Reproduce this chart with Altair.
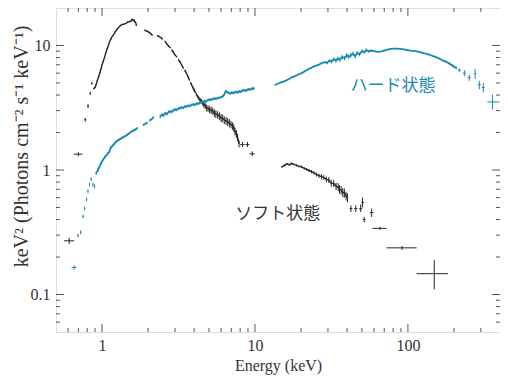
import altair as alt
import pandas as pd

# ---------------- data ----------------
# soft state (black): dense part, value, y half-error, segment id
soft_E = [0.88, 0.90, 0.915, 0.93, 0.95, 0.97, 0.985, 1.00, 1.02, 1.04, 1.061, 1.08, 1.10, 1.12,
          1.143, 1.165, 1.19, 1.21, 1.231, 1.255, 1.28, 1.30, 1.326, 1.35, 1.38, 1.40, 1.43, 1.46,
          1.48, 1.51, 1.54, 1.56, 1.58, 1.60, 1.62, 1.64, 1.66, 1.68,
          1.90, 1.94, 1.98, 2.02, 2.06, 2.10, 2.13,
          2.30, 2.36, 2.42, 2.48,
          2.58, 2.65, 2.72, 2.79, 2.86, 2.93, 3.00, 3.08, 3.16, 3.23, 3.31, 3.40, 3.48, 3.57,
          3.65, 3.72, 3.80, 3.85, 3.93, 4.00, 4.07, 4.14, 4.22, 4.30, 4.38, 4.46, 4.55, 4.63,
          4.72, 4.81, 4.93, 5.05, 5.17, 5.30, 5.42, 5.55, 5.70, 5.85, 6.00, 6.15, 6.30, 6.47,
          6.63, 6.80, 6.97, 7.14, 7.27, 7.40, 7.55, 7.69, 7.87,
          15.0, 15.6, 16.2, 16.8, 17.4, 18.0, 18.7, 19.4, 20.2, 21.0, 21.8, 22.6, 23.4, 24.3,
          25.2, 26.2, 27.2, 28.2, 29.3, 30.4, 31.5, 32.7, 33.9, 35.0, 35.7, 36.6, 37.5, 38.4,
          39.4, 40.3]
soft_V = [4.5, 4.6, 4.85, 5.2, 5.6, 6.1, 6.5, 7.0, 7.5, 8.1, 8.8, 9.4, 10.0, 10.7,
          11.3, 11.8, 12.2, 12.7, 13.1, 13.5, 13.9, 14.2, 14.5, 14.7, 14.8, 14.9, 15.0, 15.3,
          15.5, 15.5, 15.7, 16.0, 16.2, 15.8, 16.0, 15.5, 15.2, 14.4,
          13.3, 13.1, 13.0, 12.8, 12.6, 12.3, 12.1,
          12.0, 11.8, 11.6, 11.3,
          10.8, 10.3, 9.9, 9.6, 9.2, 8.8, 8.4, 8.1, 7.7, 7.4, 7.0, 6.6, 6.3, 5.96,
          5.6, 5.3, 5.0, 4.83, 4.6, 4.4, 4.2, 4.03, 3.9, 3.75, 3.65, 3.56, 3.45, 3.35,
          3.3, 3.16, 3.12, 3.05, 3.02, 2.97, 2.86, 2.82, 2.78, 2.71, 2.62, 2.60, 2.52, 2.48,
          2.44, 2.38, 2.32, 2.26, 2.18, 2.05, 1.95, 1.83, 1.62,
          1.06, 1.09, 1.12, 1.10, 1.13, 1.11, 1.09, 1.07, 1.06, 1.03, 1.01, 0.99, 0.97, 0.95,
          0.92, 0.90, 0.885, 0.87, 0.84, 0.83, 0.785, 0.78, 0.74, 0.73, 0.70, 0.69, 0.66, 0.655,
          0.62, 0.60]
soft_dV = [0.05, 0.05, 0.05, 0.05, 0.06, 0.06, 0.06, 0.07, 0.07, 0.08, 0.08, 0.09, 0.1, 0.1,
           0.1, 0.1, 0.1, 0.1, 0.1, 0.1, 0.1, 0.1, 0.1, 0.1, 0.1, 0.1, 0.1, 0.1,
           0.1, 0.1, 0.1, 0.1, 0.1, 0.1, 0.1, 0.1, 0.1, 0.1,
           0.15, 0.15, 0.15, 0.15, 0.15, 0.15, 0.15,
           0.15, 0.15, 0.15, 0.15,
           0.12, 0.12, 0.12, 0.12, 0.11, 0.11, 0.1, 0.1, 0.1, 0.1, 0.1, 0.1, 0.1, 0.1,
           0.1, 0.1, 0.1, 0.1, 0.1, 0.1, 0.1, 0.12, 0.12, 0.14, 0.14, 0.15, 0.16, 0.18,
           0.2, 0.2, 0.2, 0.2, 0.2, 0.2, 0.2, 0.2, 0.2, 0.2, 0.2, 0.18, 0.18, 0.18,
           0.18, 0.18, 0.16, 0.16, 0.15, 0.15, 0.14, 0.12, 0.1,
           0.02, 0.02, 0.02, 0.02, 0.02, 0.02, 0.02, 0.02, 0.025, 0.025, 0.025, 0.03, 0.03, 0.03,
           0.035, 0.035, 0.04, 0.04, 0.045, 0.045, 0.05, 0.05, 0.05, 0.055, 0.055, 0.055, 0.055, 0.055,
           0.05, 0.05]
soft_seg = ([1] * 38 + [2] * 7 + [3] * 4 + [4] * 4 + [5] * 4 + [6] * 4 + [7] * 4 + [8] * 5
            + [9] * 30 + [10] * 30)

# soft state: isolated crosses (energy, value, x-range, y-range)
softc_E = [0.61, 0.70, 0.777, 0.81, 0.837, 0.858, 8.28, 8.93, 9.60,
           42.4, 45.6, 49.1, 50.5, 51.8, 57.9, 65.7, 91.5, 148.7]
softc_V = [0.27, 1.34, 2.53, 3.26, 4.12, 4.97, 1.60, 1.60, 1.35,
           0.49, 0.49, 0.49, 0.55, 0.40, 0.455, 0.34, 0.237, 0.147]
softc_Elo = [0.565, 0.655, 0.765, 0.80, 0.83, 0.85, 8.0, 8.65, 9.25,
             41.6, 44.6, 48.0, 49.5, 50.8, 56.3, 58.6, 72.5, 114.0]
softc_Ehi = [0.657, 0.745, 0.79, 0.82, 0.845, 0.866, 8.55, 9.2, 9.95,
             43.3, 46.6, 50.2, 51.6, 52.8, 59.6, 72.5, 114.0, 183.0]
softc_Vlo = [0.255, 1.29, 2.45, 3.15, 4.0, 4.85, 1.53, 1.53, 1.29,
             0.46, 0.46, 0.46, 0.50, 0.38, 0.42, 0.33, 0.228, 0.110]
softc_Vhi = [0.285, 1.39, 2.61, 3.37, 4.25, 5.1, 1.68, 1.68, 1.41,
             0.52, 0.52, 0.53, 0.60, 0.42, 0.49, 0.35, 0.246, 0.189]

# hard state (blue): dense part
hard_E = [0.915, 0.94, 0.961, 0.985, 1.01, 1.05, 1.088, 1.12, 1.143, 1.17, 1.20, 1.23, 1.26,
          1.30, 1.326, 1.36, 1.39, 1.43, 1.47, 1.51, 1.54, 1.58, 1.62, 1.66, 1.70,
          1.86, 1.92, 1.97,
          2.05, 2.11, 2.17,
          2.40, 2.46, 2.52, 2.59, 2.66, 2.72, 2.79, 2.86, 2.93, 3.00, 3.08, 3.16, 3.23, 3.31,
          3.40, 3.48, 3.57, 3.65, 3.75, 3.85, 3.95, 4.05, 4.15, 4.25, 4.35, 4.46, 4.57, 4.68,
          4.80, 4.92, 5.05, 5.18, 5.31, 5.45, 5.58, 5.72, 5.85, 6.00, 6.15, 6.30, 6.40, 6.47,
          6.60, 6.75, 6.90, 7.05, 7.20, 7.35, 7.50, 7.65, 7.80, 7.95, 8.10, 8.30, 8.50, 8.70,
          8.90, 9.10, 9.30, 9.50, 9.70, 9.87,
          13.5, 14.2, 15.0, 15.8, 16.6, 17.4, 18.3, 19.2, 20.2, 21.2, 22.3, 23.4, 24.6, 25.8,
          27.2, 28.6, 29.6, 30.6, 31.7, 32.8, 33.8, 34.8, 36.0, 37.2, 38.5, 39.8, 41.0, 42.4,
          43.8, 45.2, 46.6, 48.2, 50.0, 51.8, 53.5, 55.3, 57.1, 60.0, 63.0, 66.3, 70.0, 73.5,
          76.9, 80.5, 84.5, 89.2, 94.0, 98.5, 103.5, 109.0, 114.0, 120.0, 126.0, 132.0, 139.0,
          146.0, 153.0, 161.0, 170.0, 178.0, 187.0, 197.0, 207.0]
hard_V = [0.94, 1.00, 1.06, 1.13, 1.20, 1.28, 1.35, 1.42, 1.52, 1.56, 1.62, 1.68, 1.72,
          1.76, 1.78, 1.82, 1.85, 1.88, 1.93, 1.97, 2.02, 2.05, 2.09, 2.12, 2.17,
          2.30, 2.35, 2.40,
          2.50, 2.56, 2.65,
          2.68, 2.78, 2.74, 2.85, 2.82, 2.92, 2.95, 2.93, 3.02, 3.06, 3.04, 3.12, 3.14, 3.18,
          3.15, 3.24, 3.22, 3.28, 3.27, 3.33, 3.36, 3.34, 3.42, 3.40, 3.46, 3.50, 3.52, 3.58,
          3.56, 3.64, 3.68, 3.66, 3.72, 3.75, 3.73, 3.80, 3.79, 3.86, 3.90, 4.03, 4.25, 4.30,
          4.20, 4.16, 4.12, 4.18, 4.15, 4.20, 4.24, 4.19, 4.26, 4.28, 4.25, 4.34, 4.38, 4.33,
          4.40, 4.45, 4.41, 4.52, 4.48, 4.55,
          4.83, 4.95, 5.08, 5.20, 5.35, 5.55, 5.68, 5.85, 6.00, 6.20, 6.45, 6.62, 6.85, 6.95,
          7.20, 7.35, 7.25, 7.55, 7.45, 7.75, 7.55, 7.85, 7.70, 8.10, 7.90, 8.35, 8.10, 8.35,
          8.60, 8.20, 8.70, 8.50, 9.00, 8.85, 9.20, 8.95, 9.11, 9.00, 8.90, 8.94, 9.10, 9.25,
          9.38, 9.45, 9.42, 9.38, 9.30, 9.20, 9.11, 9.05, 8.95, 8.84, 8.70, 8.55, 8.42,
          8.20, 8.05, 7.83, 7.55, 7.40, 7.15, 6.85, 6.60]
hard_dV = [0.03, 0.03, 0.03, 0.03, 0.03, 0.03, 0.04, 0.04, 0.04, 0.04, 0.04, 0.04, 0.04,
           0.04, 0.04, 0.04, 0.04, 0.04, 0.04, 0.04, 0.04, 0.04, 0.04, 0.04, 0.04,
           0.05, 0.05, 0.05,
           0.05, 0.05, 0.05,
           0.08, 0.08, 0.08, 0.08, 0.08, 0.08, 0.08, 0.08, 0.08, 0.08, 0.08, 0.08, 0.08, 0.08,
           0.08, 0.08, 0.08, 0.08, 0.08, 0.08, 0.08, 0.08, 0.08, 0.08, 0.08, 0.08, 0.08, 0.08,
           0.09, 0.09, 0.09, 0.09, 0.09, 0.09, 0.09, 0.09, 0.09, 0.09, 0.09, 0.09, 0.09, 0.09,
           0.1, 0.1, 0.1, 0.1, 0.1, 0.1, 0.1, 0.1, 0.1, 0.1, 0.1, 0.1, 0.1, 0.1,
           0.1, 0.1, 0.1, 0.1, 0.1, 0.1,
           0.05, 0.05, 0.05, 0.06, 0.06, 0.06, 0.07, 0.07, 0.08, 0.08, 0.1, 0.1, 0.12, 0.12,
           0.15, 0.15, 0.2, 0.2, 0.25, 0.25, 0.3, 0.3, 0.3, 0.3, 0.3, 0.35, 0.35, 0.35,
           0.35, 0.35, 0.3, 0.3, 0.3, 0.25, 0.25, 0.2, 0.2, 0.1, 0.1, 0.08, 0.08, 0.08,
           0.08, 0.08, 0.08, 0.08, 0.08, 0.08, 0.08, 0.08, 0.08, 0.08, 0.1, 0.1, 0.1,
           0.12, 0.12, 0.15, 0.15, 0.18, 0.2, 0.2, 0.2]
hard_seg = [1] * 25 + [2] * 3 + [3] * 3 + [4] * 62 + [5] * 63

# hard state: isolated crosses
hardc_E = [0.657, 0.697, 0.725, 0.751, 0.769, 0.792, 0.809, 0.828, 0.849, 0.871, 0.892,
           217.0, 234.0, 252.0, 275.0, 293.0, 311.0, 357.0]
hardc_V = [0.165, 0.298, 0.316, 0.424, 0.49, 0.58, 0.674, 0.762, 0.845, 0.762, 0.74,
           6.34, 6.0, 5.51, 5.96, 4.83, 4.6, 3.52]
hardc_Elo = [0.632, 0.69, 0.718, 0.744, 0.762, 0.785, 0.802, 0.821, 0.842, 0.864, 0.885,
             212.0, 228.0, 246.0, 270.0, 286.0, 304.0, 331.0]
hardc_Ehi = [0.683, 0.704, 0.732, 0.758, 0.776, 0.799, 0.816, 0.835, 0.856, 0.878, 0.899,
             222.0, 240.0, 258.0, 280.0, 300.0, 318.0, 397.0]
hardc_Vlo = [0.158, 0.288, 0.305, 0.41, 0.475, 0.56, 0.65, 0.735, 0.815, 0.735, 0.715,
             6.15, 5.66, 5.2, 5.4, 4.45, 4.2, 3.07]
hardc_Vhi = [0.172, 0.308, 0.327, 0.438, 0.505, 0.60, 0.70, 0.79, 0.875, 0.79, 0.765,
             6.53, 6.34, 5.82, 6.5, 5.2, 5.0, 4.03]

# axis tick values
x_major = [1, 10, 100]
x_minor = [0.6, 0.7, 0.8, 0.9, 2, 3, 4, 5, 6, 7, 8, 9, 20, 30, 40, 50, 60, 70, 80, 90, 200, 300]
y_major = [0.1, 1, 10]
y_minor = [0.06, 0.07, 0.08, 0.09, 0.2, 0.3, 0.4, 0.5, 0.6, 0.7, 0.8, 0.9, 2, 3, 4, 5, 6, 7, 8, 9]

# labels
labels_text = ["ハード状態", "ソフト状態"]
labels_E = [80.0, 14.1]
labels_V = [4.7, 0.44]
labels_color = ["#1a8ab3", "#333333"]

# ---------------- chart ----------------
W, H = 444, 324
BLUE = "#1a8ab3"
BLACK = "#262626"
SERIF = "Liberation Serif"

xs = alt.Scale(type="log", domain=[0.5, 400], nice=False)
ys = alt.Scale(type="log", domain=[0.05, 20], nice=False)
xaxis = alt.Axis(values=x_major, format="~g", title="Energy (keV)", grid=False, ticks=False,
                 domain=False, labelFont=SERIF, labelFontSize=16, labelColor="#333",
                 labelPadding=5, titleFont=SERIF, titleFontSize=16, titleFontWeight="normal",
                 titleColor="#333", titleBaseline="middle", titleY=33, labelFlush=False)
yaxis = alt.Axis(values=y_major, format="~g", title="keV² (Photons cm⁻² s⁻¹ keV⁻¹)", grid=False,
                 ticks=False, domain=False, labelFont=SERIF, labelFontSize=16, labelColor="#333",
                 labelPadding=6, titleFont=SERIF, titleFontSize=20, titleFontWeight="normal",
                 titleColor="#333", titleBaseline="middle", titleX=-35, titleY=138,
                 labelFlush=False)


def X(f):
    return alt.X(f, type="quantitative", scale=xs, axis=xaxis)


def Y(f):
    return alt.Y(f, type="quantitative", scale=ys, axis=yaxis)


soft = pd.DataFrame({"E": soft_E, "V": soft_V, "dV": soft_dV, "seg": soft_seg})
hard = pd.DataFrame({"E": hard_E, "V": hard_V, "dV": hard_dV, "seg": hard_seg})
softc = pd.DataFrame({"E": softc_E, "V": softc_V, "Elo": softc_Elo, "Ehi": softc_Ehi,
                      "Vlo": softc_Vlo, "Vhi": softc_Vhi})
hardc = pd.DataFrame({"E": hardc_E, "V": hardc_V, "Elo": hardc_Elo, "Ehi": hardc_Ehi,
                      "Vlo": hardc_Vlo, "Vhi": hardc_Vhi})


def dense_layers(df, color, sw):
    line = alt.Chart(df).mark_line(color=color, strokeWidth=sw).encode(
        x=X("E"), y=Y("V"), detail="seg:N")
    err = alt.Chart(df).transform_calculate(
        lo="datum.V - datum.dV", hi="datum.V + datum.dV"
    ).mark_rule(color=color, strokeWidth=1).encode(x=X("E"), y=Y("lo"), y2="hi:Q")
    return [line, err]


def cross_layers(df, color):
    hx = alt.Chart(df).mark_rule(color=color, strokeWidth=1).encode(
        x=X("Elo"), x2="Ehi:Q", y=Y("V"))
    vy = alt.Chart(df).mark_rule(color=color, strokeWidth=1).encode(
        x=X("E"), y=Y("Vlo"), y2="Vhi:Q")
    return [hx, vy]


TICK = "#555"
xmaj = pd.DataFrame({"t": x_major})
xmin = pd.DataFrame({"t": x_minor})
ymaj = pd.DataFrame({"t": y_major})
ymin = pd.DataFrame({"t": y_minor})
tick_layers = []
for df, L in [(xmaj, 8), (xmin, 4)]:
    tick_layers.append(alt.Chart(df).mark_rule(color=TICK).encode(
        x=X("t"), y=alt.value(H), y2=alt.value(H - L)))
    tick_layers.append(alt.Chart(df).mark_rule(color=TICK).encode(
        x=X("t"), y=alt.value(0), y2=alt.value(L)))
for df, L in [(ymaj, 8), (ymin, 4)]:
    tick_layers.append(alt.Chart(df).mark_rule(color=TICK).encode(
        y=Y("t"), x=alt.value(0), x2=alt.value(L)))
    tick_layers.append(alt.Chart(df).mark_rule(color=TICK).encode(
        y=Y("t"), x=alt.value(W), x2=alt.value(W - L)))

lab = pd.DataFrame({"txt": labels_text, "E": labels_E, "V": labels_V, "c": labels_color})
text = alt.Chart(lab).mark_text(font="Noto Sans CJK JP", fontSize=17).encode(
    x=X("E"), y=Y("V"), text="txt:N", color=alt.Color("c:N", scale=None))

layers = (tick_layers + dense_layers(soft, BLACK, 1.4) + cross_layers(softc, BLACK)
          + dense_layers(hard, BLUE, 1.8) + cross_layers(hardc, BLUE) + [text])

chart = alt.layer(*layers).properties(
    width=W, height=H,
    autosize=alt.AutoSizeParams(type="none"),
    padding={"left": 48, "top": 0, "right": 0, "bottom": 43},
).configure_view(stroke="#555", strokeWidth=1).configure(background="white")

chart.save("out.html", embed_options={"renderer": "svg", "actions": False})
